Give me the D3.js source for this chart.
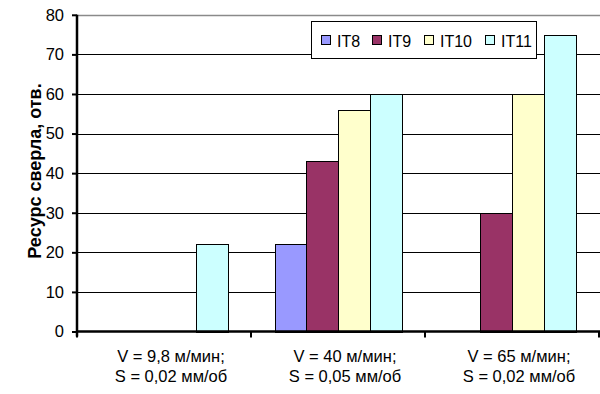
<!DOCTYPE html>
<html>
<head>
<meta charset="utf-8">
<script src="https://cdn.jsdelivr.net/npm/d3@7"></script>
<style>
  html, body { margin: 0; padding: 0; background: #fff; }
  svg { display: block; font-family: Arial, "Liberation Sans", sans-serif; }
</style>
</head>
<body>
<svg id="chart" width="600" height="394"></svg>
<script>
// Drill life by cutting mode and tolerance grade
const categories = ["c1", "c2", "c3"];
const categoryLine1 = ["V = 9,8 м/мин;", "V = 40 м/мин;", "V = 65 м/мин;"];
const categoryLine2 = ["S = 0,02 мм/об", "S = 0,05 мм/об", "S = 0,02 мм/об"];

const seriesNames = ["IT8", "IT9", "IT10", "IT11"];
const seriesColors = ["#9999FF", "#993366", "#FFFFCC", "#CCFFFF"];
const valuesIT8 = [null, 22, null];
const valuesIT9 = [null, 43, 30];
const valuesIT10 = [null, 56, 60];
const valuesIT11 = [22, 60, 75];
const seriesValues = [valuesIT8, valuesIT9, valuesIT10, valuesIT11];

const yTicks = [0, 10, 20, 30, 40, 50, 60, 70, 80];
const yTitle = "Ресурс сверла, отв.";

const svg = d3.select("#chart");

const plot = { left: 77, right: 599, top: 14.8, bottom: 331.5 };

const x = d3.scaleBand().domain(categories).range([plot.left, plot.right]).paddingInner(0).paddingOuter(0);
const xs = d3.scaleBand().domain(seriesNames).range([0, x.bandwidth()]).paddingInner(0).paddingOuter(0.75);
const y = d3.scaleLinear().domain([0, 80]).range([plot.bottom, plot.top]);

// gridlines
svg.append("g")
  .selectAll("line")
  .data(yTicks.filter(t => t > 0))
  .join("line")
  .attr("x1", plot.left).attr("x2", 600)
  .attr("y1", d => Math.round(y(d)) + 0.5).attr("y2", d => Math.round(y(d)) + 0.5)
  .attr("stroke", d => d === 80 ? "#8a8a8a" : "#000")
  .attr("stroke-width", d => d === 80 ? 1.5 : 1);

// bars
const barData = [];
seriesNames.forEach((s, si) => {
  categories.forEach((c, ci) => {
    const v = seriesValues[si][ci];
    if (v != null) barData.push({ s, c, v, color: seriesColors[si] });
  });
});

svg.append("g")
  .selectAll("rect")
  .data(barData)
  .join("rect")
  .attr("x", d => Math.round(x(d.c) + xs(d.s)) + 0.5)
  .attr("y", d => Math.round(y(d.v)) + 0.5)
  .attr("width", Math.round(xs.bandwidth()))
  .attr("height", d => Math.round(y(0)) - Math.round(y(d.v)))
  .attr("fill", d => d.color)
  .attr("stroke", "#000")
  .attr("stroke-width", 1);

// y axis
const yAxis = d3.axisLeft(y).tickValues(yTicks).tickSize(5).tickPadding(8);
const gy = svg.append("g").attr("transform", `translate(${plot.left},0)`).call(yAxis);
gy.select(".domain").attr("stroke", "#000").attr("stroke-width", 2.5).attr("d", `M0,${plot.top}V${plot.bottom + 5}`);
gy.selectAll(".tick line").attr("stroke", "#000").attr("stroke-width", 2);
gy.selectAll(".tick text").attr("font-size", 16.5).attr("fill", "#000")
  .attr("font-family", "Arial, 'Liberation Sans', sans-serif");

// x axis
const xAxis = d3.axisBottom(x).tickValues([]).tickSize(0);
const gx = svg.append("g").attr("transform", `translate(0,${plot.bottom})`).call(xAxis);
gx.select(".domain").attr("stroke", "#000").attr("stroke-width", 2.5).attr("d", `M${plot.left},0H${plot.right + 1}`);
const boundaries = categories.map(c => x(c)).concat([x(categories[categories.length - 1]) + x.bandwidth()]);
gx.selectAll(".bnd")
  .data(boundaries)
  .join("line")
  .attr("class", "bnd")
  .attr("x1", d => d).attr("x2", d => d)
  .attr("y1", 0).attr("y2", 6)
  .attr("stroke", "#000").attr("stroke-width", 2);

const lab = svg.append("g")
  .attr("font-size", 16.5)
  .attr("fill", "#000")
  .attr("text-anchor", "middle");
categories.forEach((c, i) => {
  const cx = x(c) + x.bandwidth() / 2 + 7;
  lab.append("text").attr("x", cx).attr("y", 362).text(categoryLine1[i]);
  lab.append("text").attr("x", cx).attr("y", 382).text(categoryLine2[i]);
});

// y title
svg.append("text")
  .attr("transform", "translate(40.5,171) rotate(-90)")
  .attr("text-anchor", "middle")
  .attr("font-size", 18)
  .attr("font-weight", "bold")
  .attr("fill", "#000")
  .text(yTitle);

// legend
const legend = svg.append("g");
legend.append("rect")
  .attr("x", 311.5).attr("y", 21.5).attr("width", 225).attr("height", 37)
  .attr("fill", "#fff").attr("stroke", "#000").attr("stroke-width", 1);
const legendSwatchX = [321, 372, 424, 485];
seriesNames.forEach((s, i) => {
  legend.append("rect")
    .attr("x", legendSwatchX[i] + 0.5).attr("y", 35.5).attr("width", 9).attr("height", 9)
    .attr("fill", seriesColors[i]).attr("stroke", "#000").attr("stroke-width", 1);
  legend.append("text")
    .attr("x", legendSwatchX[i] + 16).attr("y", 46.5)
    .attr("font-size", 16).attr("fill", "#000")
    .text(s);
});
</script>
</body>
</html>
